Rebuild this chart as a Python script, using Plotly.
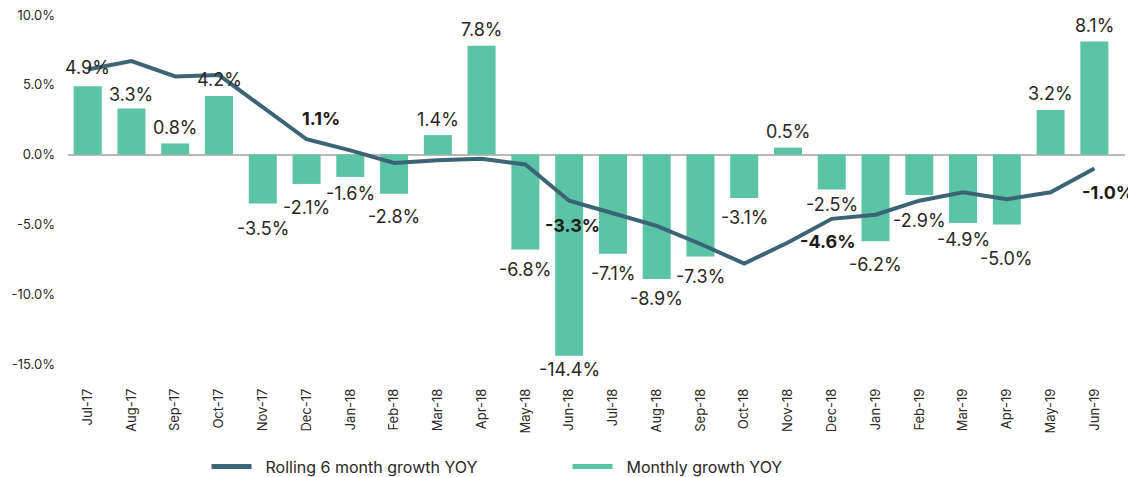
import plotly.graph_objects as go

months = ["Jul-17", "Aug-17", "Sep-17", "Oct-17", "Nov-17", "Dec-17", "Jan-18", "Feb-18",
          "Mar-18", "Apr-18", "May-18", "Jun-18", "Jul-18", "Aug-18", "Sep-18", "Oct-18",
          "Nov-18", "Dec-18", "Jan-19", "Feb-19", "Mar-19", "Apr-19", "May-19", "Jun-19"]
monthly_growth = [4.9, 3.3, 0.8, 4.2, -3.5, -2.1, -1.6, -2.8, 1.4, 7.8, -6.8, -14.4,
                  -7.1, -8.9, -7.3, -3.1, 0.5, -2.5, -6.2, -2.9, -4.9, -5.0, 3.2, 8.1]
rolling_growth = [6.1, 6.7, 5.6, 5.7, 3.4, 1.1, 0.3, -0.6, -0.4, -0.3, -0.7, -3.3,
                  -4.2, -5.1, -6.4, -7.8, -6.3, -4.6, -4.3, -3.3, -2.7, -3.2, -2.7, -1.0]
rolling_labels = {"Dec-17": 1.1, "Jun-18": -3.3, "Dec-18": -4.6, "Jun-19": -1.0}
y_ticks = [-15, -10, -5, 0, 5, 10]

BAR = "#5bc3a6"
LINE = "#3c6477"
TXT = "#2b2724"
FONT = "Inter"
PAD = "\u00a0\u00a0"

fig = go.Figure()
fig.add_trace(go.Bar(x=months, y=monthly_growth, marker=dict(color=BAR, line=dict(width=0)),
                     showlegend=False, hoverinfo="skip"))
fig.add_trace(go.Scatter(x=months, y=rolling_growth, mode="lines",
                         line=dict(color=LINE, width=4), showlegend=False, hoverinfo="skip"))
# legend entries (drawn as thick lines like the reference)
fig.add_trace(go.Scatter(x=[None], y=[None], mode="lines", line=dict(color=LINE, width=5),
                         name=PAD + "Rolling 6 month growth YOY"))
fig.add_trace(go.Scatter(x=[None], y=[None], mode="lines", line=dict(color=BAR, width=5),
                         name=PAD + "Monthly growth YOY"))

# label placement tweaks (pixels) matching the reference layout
bar_label_dy = {"Jul-17": 19, "Aug-17": 14, "Nov-17": -25, "Dec-17": -24, "Jan-18": -17,
                "Feb-18": -23, "Jun-18": -14, "Dec-18": -15, "Jan-19": -23, "Feb-19": -25,
                "Mar-19": -16, "Apr-19": -34}
annotations = []
for m, v in zip(months, monthly_growth):
    dy = bar_label_dy.get(m, 16 if v >= 0 else -20)
    annotations.append(dict(x=m, y=v, text=f"{v:.1f}%", showarrow=False, yanchor="middle",
                            yshift=dy, font=dict(family=FONT, size=18, color=TXT)))
label_offsets = {"Dec-17": (14, 21), "Jun-18": (3, -25), "Dec-18": (-4, -23), "Jun-19": (14, -24)}
for m, v in rolling_labels.items():
    dx, dy = label_offsets[m]
    annotations.append(dict(x=m, y=v, text=f"<b>{v:.1f}%</b>", showarrow=False, yanchor="middle",
                            xshift=dx, yshift=dy,
                            font=dict(family=FONT, size=18, color="#1e1a17")))

# the page body adds an 8px margin, so the figure is 8px smaller and offsets shifted
fig.update_layout(
    width=1128, height=469,
    margin=dict(l=60, r=11, t=7, b=92, autoexpand=False),
    paper_bgcolor="white", plot_bgcolor="white",
    bargap=0.36,
    font=dict(family=FONT, color=TXT),
    annotations=annotations,
    legend=dict(orientation="h", x=0.4726, xanchor="center", y=-0.2204, yanchor="middle",
                font=dict(family=FONT, size=16, color=TXT), itemwidth=40, entrywidth=306),
    xaxis=dict(type="category", range=[-0.45, 23.7], tickangle=-90, showgrid=False,
               showline=False, ticks="", automargin=False,
               tickfont=dict(family=FONT, size=13, color=TXT)),
    yaxis=dict(range=[-16.5, 10.0], tickvals=y_ticks, ticktext=[f"{t:.1f}%" for t in y_ticks],
               showgrid=False, zeroline=True, zerolinecolor="#b8b8b8", zerolinewidth=2,
               showline=False, ticks="", ticklabelstandoff=12, automargin=False,
               ticklabeloverflow="allow",
               tickfont=dict(family=FONT, size=13, color=TXT)),
)

fig.write_html("out.html")
